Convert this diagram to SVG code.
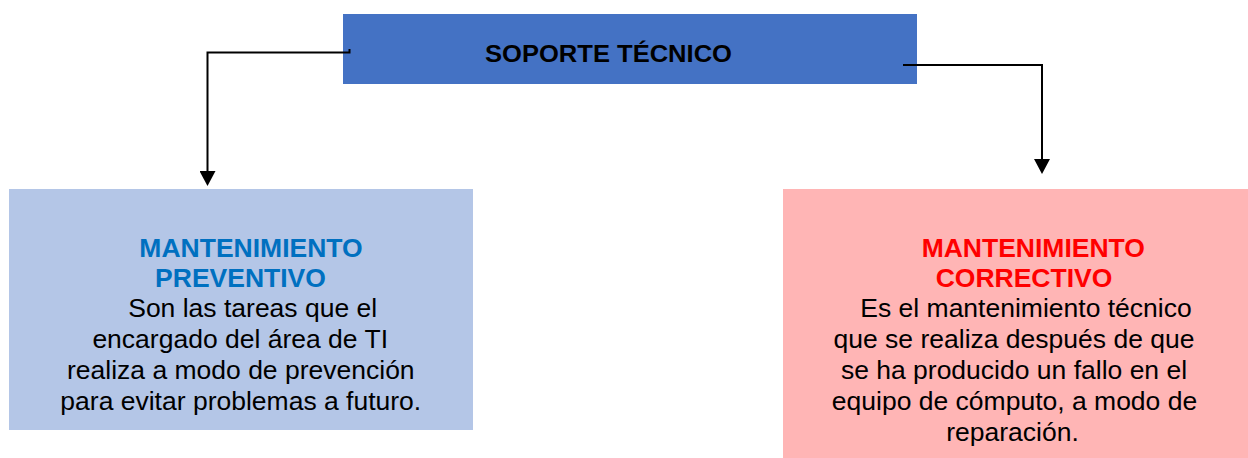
<svg xmlns="http://www.w3.org/2000/svg" width="1248" height="458" viewBox="0 0 1248 458">
  <style>
    .title { font-family: "Liberation Sans", Arial, sans-serif; font-weight: bold; font-size: 24px; fill: #000000; }
    .head { font-family: "Liberation Sans", Arial, sans-serif; font-weight: bold; font-size: 26.5px; text-anchor: middle; }
    .body { font-family: "Liberation Sans", Arial, sans-serif; font-size: 26.5px; fill: #000000; text-anchor: middle; }
    .conn { fill: none; stroke: #000000; stroke-width: 2; }
  </style>
  <defs>
    <marker id="arrow" markerUnits="userSpaceOnUse" markerWidth="16" markerHeight="16" viewBox="0 0 16 16" refX="1" refY="8" orient="auto">
      <path d="M0,0 L15,8 L0,16 Z" fill="#000000"/>
    </marker>
  </defs>
  <rect width="1248" height="458" fill="#ffffff"/>

  <g id="soporte">
    <rect x="343" y="14" width="574" height="70" fill="#4472C4"/>
    <text class="title" x="485" y="61.5" textLength="247" lengthAdjust="spacingAndGlyphs">SOPORTE TÉCNICO</text>
  </g>

  <g id="preventivo">
    <rect x="9" y="189" width="464" height="241" fill="#B4C6E7"/>
    <text class="head" fill="#0070C0" x="251" y="257">MANTENIMIENTO</text>
    <text class="head" fill="#0070C0" x="240.5" y="287">PREVENTIVO</text>
    <text class="body" x="252.7" y="317">Son las tareas que el</text>
    <text class="body" x="240.2" y="348">encargado del área de TI</text>
    <text class="body" x="240.8" y="379">realiza a modo de prevención</text>
    <text class="body" x="240.8" y="410">para evitar problemas a futuro.</text>
  </g>

  <g id="correctivo">
    <rect x="783" y="189" width="465" height="269" fill="#FFB5B5"/>
    <text class="head" fill="#FF0000" x="1033.3" y="257">MANTENIMIENTO</text>
    <text class="head" fill="#FF0000" x="1024" y="287">CORRECTIVO</text>
    <text class="body" x="1026" y="317">Es el mantenimiento técnico</text>
    <text class="body" x="1014" y="348">que se realiza después de que</text>
    <text class="body" x="1014" y="379">se ha producido un fallo en el</text>
    <text class="body" x="1014.5" y="410">equipo de cómputo, a modo de</text>
    <text class="body" x="1012.5" y="441">reparación.</text>
  </g>

  <g id="connectors">
    <path class="conn" d="M349.5,49 V52.5 H207.5 V172" marker-end="url(#arrow)"/>
    <path class="conn" d="M903,65 H1042 V160" marker-end="url(#arrow)"/>
  </g>
</svg>
